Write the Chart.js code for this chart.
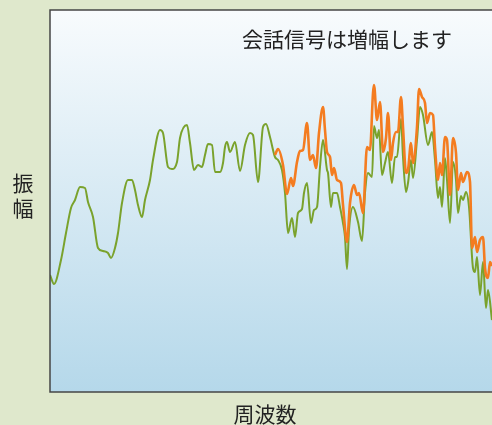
<!DOCTYPE html>
<html>
<head>
<meta charset="utf-8">
<script src="https://cdn.jsdelivr.net/npm/chart.js@4"></script>
<style>
  body { margin: 0; background: #dfe8cc; }
  canvas { display: block; }
</style>
</head>
<body>
<canvas id="c" width="492" height="425"></canvas>
<script>
// data (frequency index, amplitude)
const greenFreq = [0,4,11,16,21,25,30,35,38,43,48,53,58,61,65,68,72,78,82,85,88,92,95,100,103,110,113,118,122,127,130,137,140,144,148,152,155,158,162,165,170,173,175,177,180,185,190,195,200,203,208,213,216,220,225,228,232,235,238,242,245,248,252,254,257,261,264,267,270,273,277,278,281,283,287,290,293,295,297,299,303,308,312,315,318,322,324,327,329,332,335,338,342,345,347,351,353,356,358,361,363,367,370,373,378,382,385,388,390,392,395,397,400,403,406,408,411,413,416,419,423,425,427,430,433,436,438,442];
const greenAmp = [117,108,132,159,184,192,205,204,190,175,144,141,139,134,144,159,189,212,212,202,187,175,192,212,232,262,259,225,223,230,254,267,249,222,227,225,237,248,247,220,220,229,245,250,240,250,221,247,259,257,210,265,268,255,235,232,222,199,159,174,155,179,183,199,209,169,182,185,225,252,222,219,185,199,199,185,169,155,123,162,185,170,151,199,219,215,266,254,262,217,229,240,209,235,235,273,235,200,209,232,214,252,285,277,247,260,232,194,205,185,234,212,169,230,212,179,196,192,200,185,124,120,135,97,130,84,102,72];

const orangeFreq = [225,228,233,237,241,243,247,250,253,257,260,263,266,269,273,275,277,280,282,284,287,291,293,297,300,304,307,309,313,317,320,323,324,327,330,333,336,338,341,343,346,348,351,353,356,358,361,363,367,369,372,375,377,380,383,385,388,390,392,395,397,400,403,406,408,411,413,417,420,422,425,427,430,433,435,438,440,442];
const orangeAmp = [237,243,227,198,214,206,230,241,242,269,232,237,224,259,285,262,240,235,217,224,212,209,187,150,189,207,197,199,179,245,242,299,307,272,290,240,254,279,232,249,260,260,295,265,219,222,249,229,265,303,295,289,269,279,277,245,212,229,217,255,252,197,254,239,202,219,210,220,210,144,155,140,152,155,124,114,130,126];

const titleText = '会話信号は増幅します';
const xTitle = '周波数';
const yTitle = ['振', '幅'];

function pts(xs, ys) {
  return xs.map((x, i) => ({ x: x, y: ys[i] }));
}

const FONT = '21px "Noto Sans CJK JP", "Noto Sans", sans-serif';

const decor = {
  id: 'decor',
  beforeDatasetsDraw(chart) {
    const { ctx, chartArea: a } = chart;
    const g = ctx.createLinearGradient(0, a.top, 0, a.bottom);
    g.addColorStop(0, '#f8fbfd');
    g.addColorStop(1, '#b5d8ea');
    ctx.save();
    ctx.fillStyle = g;
    ctx.fillRect(a.left, a.top, a.right - a.left, a.bottom - a.top);
    ctx.restore();
  },
  afterDraw(chart) {
    const { ctx, chartArea: a } = chart;
    ctx.save();
    ctx.strokeStyle = '#454545';
    ctx.lineWidth = 1.5;
    ctx.beginPath();
    ctx.moveTo(a.right + 2, a.top);
    ctx.lineTo(a.left, a.top);
    ctx.lineTo(a.left, a.bottom);
    ctx.lineTo(a.right + 2, a.bottom);
    ctx.stroke();

    ctx.fillStyle = '#222';
    ctx.font = FONT;
    ctx.textAlign = 'center';
    ctx.textBaseline = 'middle';
    ctx.fillText(titleText, 347, 39);
    ctx.fillText(xTitle, 265, 414);
    yTitle.forEach((ch, i) => ctx.fillText(ch, 23, 183 + i * 25));
    ctx.restore();
  }
};

new Chart(document.getElementById('c'), {
  type: 'line',
  data: {
    datasets: [
      {
        data: pts(orangeFreq, orangeAmp),
        borderColor: '#f47c20',
        borderWidth: 2.6,
        pointRadius: 0,
        cubicInterpolationMode: 'monotone',
        order: 0
      },
      {
        data: pts(greenFreq, greenAmp),
        borderColor: '#7aa22c',
        borderWidth: 2,
        pointRadius: 0,
        cubicInterpolationMode: 'monotone',
        order: 1
      }
    ]
  },
  options: {
    responsive: false,
    animation: false,
    layout: { padding: { left: 50, top: 10, right: 0, bottom: 33 } },
    plugins: { legend: { display: false }, tooltip: { enabled: false } },
    scales: {
      x: { type: 'linear', min: 0, max: 442, display: false },
      y: { min: 0, max: 382, display: false }
    }
  },
  plugins: [decor]
});
</script>
</body>
</html>
